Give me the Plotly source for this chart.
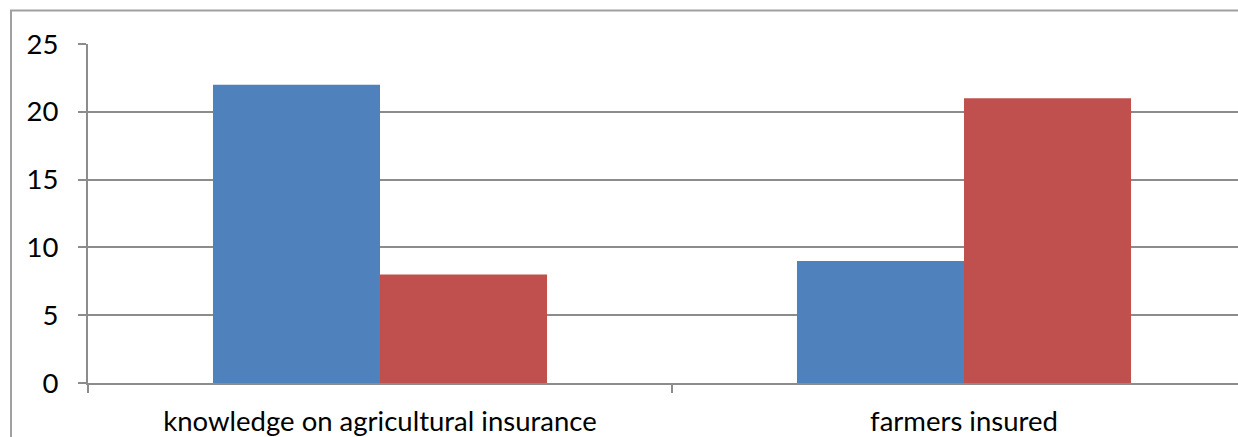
import plotly.graph_objects as go

categories = ["knowledge on agricultural insurance", "farmers insured"]
series_a = [22, 9]
series_b = [8, 21]
y_ticks = [0, 5, 10, 15, 20, 25]

W, H = 1238, 437
L, T, B = 88, 44, 54
plot_w = W - L
cat_px = 584.0
x_max = -0.5 + plot_w / cat_px

grid = "#8c8c8c"
font = dict(family="Lato", size=27.5, color="#000000")

fig = go.Figure()
fig.add_trace(go.Bar(x=categories, y=series_a, marker=dict(color="#4F81BD", line=dict(width=0)), showlegend=False))
fig.add_trace(go.Bar(x=categories, y=series_b, marker=dict(color="#C0504D", line=dict(width=0)), showlegend=False))

plot_h = H - T - B
fig.add_shape(type="rect", xref="paper", yref="paper",
              x0=(11 - L) / plot_w, x1=1.2,
              y0=-0.5, y1=1 + (T - 10.5) / plot_h,
              line=dict(color="#a0a0a0", width=2), fillcolor="rgba(0,0,0,0)", layer="below")

fig.update_layout(
    width=W, height=H,
    margin=dict(l=L, r=0, t=T, b=B, pad=0),
    paper_bgcolor="white", plot_bgcolor="white",
    barmode="group", bargap=0.428, bargroupgap=0,
    font=font,
)
fig.update_xaxes(type="category", range=[-0.5, x_max], tickson="boundaries",
                 ticks="outside", ticklen=8, tickcolor=grid, tickwidth=2,
                 showline=True, linecolor=grid, linewidth=2,
                 showgrid=False, tickfont=font, ticklabelstandoff=13)
fig.update_yaxes(range=[0, 25], tickvals=y_ticks, ticks="outside", ticklen=8,
                 tickcolor=grid, tickwidth=2, showline=True, linecolor=grid, linewidth=2,
                 showgrid=True, gridcolor=grid, gridwidth=2, zeroline=False,
                 tickfont=font, ticklabelstandoff=14)

fig.write_html("out.html")
